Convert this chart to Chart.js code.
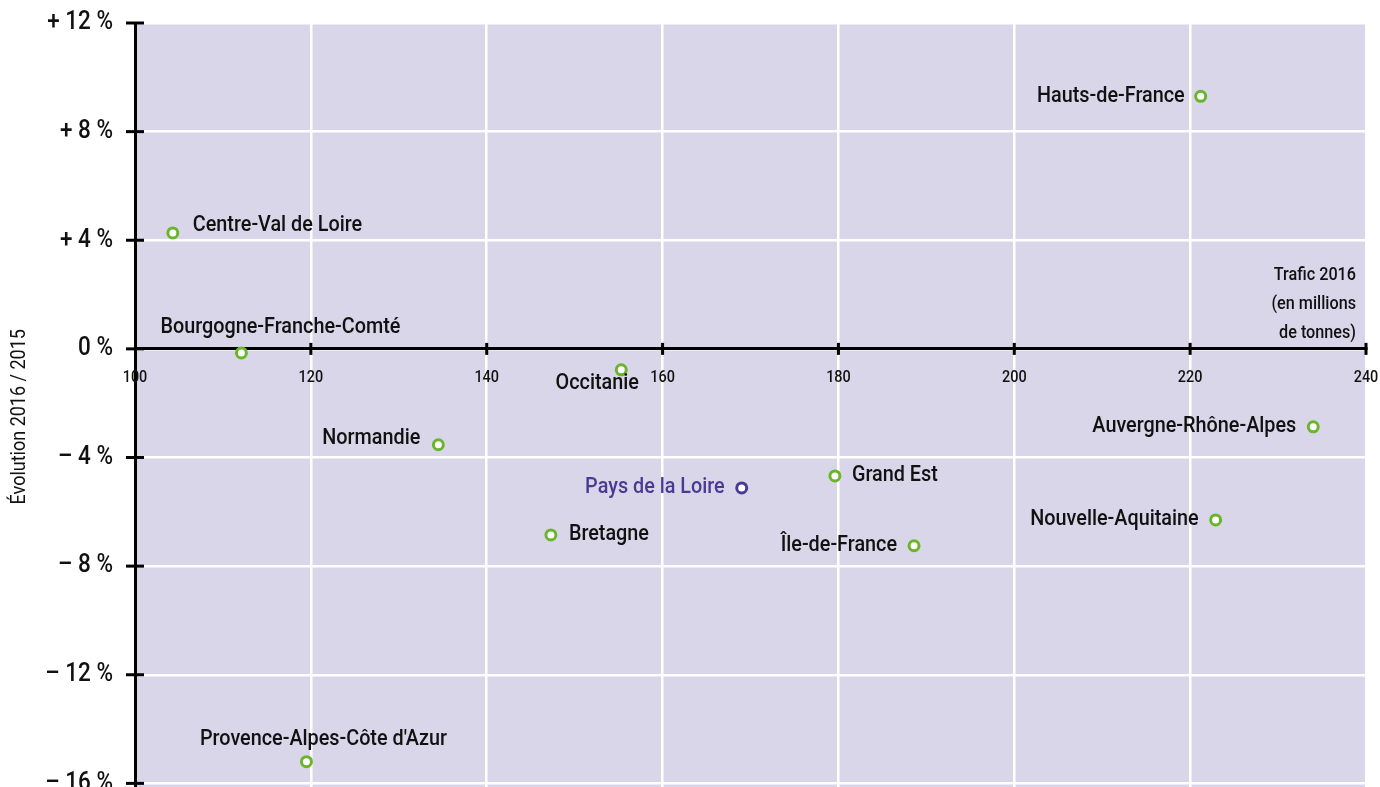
<!DOCTYPE html>
<html>
<head>
<meta charset="utf-8">
<script src="https://cdn.jsdelivr.net/npm/chart.js@4"></script>
<style>
html,body{margin:0;padding:0;background:#fff;overflow:hidden;}
#wrap{width:1380px;height:900px;}
</style>
</head>
<body>
<div id="wrap"><canvas id="c" width="1380" height="900"></canvas></div>
<script>
// ---- data ----
const regions = ["Hauts-de-France","Centre-Val de Loire","Bourgogne-Franche-Comté","Occitanie","Normandie","Pays de la Loire","Grand Est","Bretagne","Île-de-France","Auvergne-Rhône-Alpes","Nouvelle-Aquitaine","Provence-Alpes-Côte d'Azur"];
const trafic2016 = [221.2,104.3,112.1,155.3,134.5,169.0,179.6,147.3,188.6,234.0,222.9,119.5];
const evolution = [9.3,4.27,-0.15,-0.77,-3.53,-5.12,-4.68,-6.85,-7.25,-2.87,-6.3,-15.2];
const xTicks = [100,120,140,160,180,200,220,240];
const yTicks = [-20,-16,-12,-8,-4,0,4,8,12];
const xTitleLines = ["Trafic 2016","(en millions","de tonnes)"];
const yTitle = "Évolution 2016 / 2015";
const highlight = "Pays de la Loire";

// ---- label placement (style, not data) ----
const labelPlace = {
  "Hauts-de-France":[-16,0,"right"],
  "Centre-Val de Loire":[20,-7,"left"],
  "Bourgogne-Franche-Comté":[39,-25,"center"],
  "Occitanie":[-24,14,"center"],
  "Normandie":[-18,-6,"right"],
  "Pays de la Loire":[-17,0,"right"],
  "Grand Est":[17,0,"left"],
  "Bretagne":[18,0,"left"],
  "Île-de-France":[-17,0,"right"],
  "Auvergne-Rhône-Alpes":[-17,0,"right"],
  "Nouvelle-Aquitaine":[-17,0,"right"],
  "Provence-Alpes-Côte d'Azur":[17,-22,"center"]
};
const FONT = "Roboto, 'Liberation Sans', Arial, sans-serif";
const SX = 0.9;
const GREEN = "#6ab52b", PURPLE = "#4b3a94", BG = "#d9d6e9", INK = "#111111";

function txt(ctx, s, x, y, align, size, color, rot, weight){
  ctx.save();
  ctx.font = (weight || "500") + " " + size + "px " + FONT;
  ctx.fillStyle = color;
  ctx.textBaseline = 'middle';
  ctx.textAlign = align;
  ctx.translate(x, y);
  if (rot) ctx.rotate(rot);
  ctx.scale(SX, 1);
  ctx.fillText(s, 0, 0);
  ctx.restore();
}

const bgPlugin = {
  id:'bg',
  beforeDraw(chart){
    const {ctx, chartArea:a} = chart;
    ctx.save(); ctx.fillStyle = BG;
    ctx.fillRect(a.left, a.top, a.right-a.left, a.bottom-a.top);
    ctx.restore();
  }
};
const decoPlugin = {
  id:'deco',
  afterDraw(chart){
    const {ctx} = chart;
    const xs = chart.scales.x, ys = chart.scales.y;
    const x0 = xs.getPixelForValue(100), y0 = ys.getPixelForValue(0);
    ctx.save();
    ctx.strokeStyle = '#000'; ctx.lineWidth = 3;
    yTicks.forEach(v=>{
      const py = ys.getPixelForValue(v);
      ctx.beginPath(); ctx.moveTo(x0-9, py); ctx.lineTo(x0+9, py); ctx.stroke();
    });
    xTicks.forEach(v=>{
      if (v===100) return;
      const px = xs.getPixelForValue(v);
      ctx.beginPath(); ctx.moveTo(px, y0-6); ctx.lineTo(px, y0+6); ctx.stroke();
    });
    ctx.restore();
    // y tick labels
    yTicks.forEach(v=>{
      const s = v>0 ? '+ '+v+' %' : (v<0 ? '– '+Math.abs(v)+' %' : '0 %');
      txt(ctx, s, x0-22, ys.getPixelForValue(v), 'right', 25, INK);
    });
    // x tick labels
    xTicks.forEach(v=>{
      txt(ctx, String(v), xs.getPixelForValue(v), y0+29, 'center', 16, INK);
    });
    // x title
    const xr = xs.getPixelForValue(240) - 10;
    xTitleLines.forEach((t,i)=>{
      txt(ctx, t, xr, y0 - 73 + i*29, 'right', 18, INK);
    });
    // y title
    txt(ctx, yTitle, 20, ys.getPixelForValue(-2.5), 'center', 20, INK, -Math.PI/2, "400");
  },
  afterDatasetsDraw(chart){
    const {ctx} = chart;
    const meta = chart.getDatasetMeta(0);
    meta.data.forEach((el,i)=>{
      const name = regions[i];
      const p = labelPlace[name];
      txt(ctx, name, el.x + p[0], el.y + p[1], p[2], 22, name===highlight ? PURPLE : INK);
    });
  }
};

new Chart(document.getElementById('c'), {
  type:'scatter',
  data:{
    datasets:[{
      data: regions.map((r,i)=>({x:trafic2016[i], y:evolution[i]})),
      pointRadius:5, pointHoverRadius:5, pointBorderWidth:3,
      pointBackgroundColor:'#fff',
      pointBorderColor: regions.map(r=> r===highlight ? PURPLE : GREEN)
    }]
  },
  options:{
    responsive:false, animation:false, devicePixelRatio:1,
    layout:{padding:{top:23,right:14,bottom:8,left:0}},
    plugins:{legend:{display:false}, tooltip:{enabled:false}},
    scales:{
      x:{
        type:'linear', min:100, max:240,
        position:{y:0},
        afterBuildTicks(s){ s.ticks = xTicks.map(v=>({value:v})); },
        grid:{color:'#fff', lineWidth:2.5, drawTicks:false},
        border:{display:true, color:'#000', width:3},
        ticks:{display:false}
      },
      y:{
        type:'linear', min:-20, max:12,
        afterBuildTicks(s){ s.ticks = yTicks.map(v=>({value:v})); },
        afterFit(s){ s.width = 135; },
        grid:{color:'#fff', lineWidth:2.5, drawTicks:false},
        border:{display:true, color:'#000', width:3},
        ticks:{display:false}
      }
    }
  },
  plugins:[bgPlugin, decoPlugin]
});
</script>
</body>
</html>
